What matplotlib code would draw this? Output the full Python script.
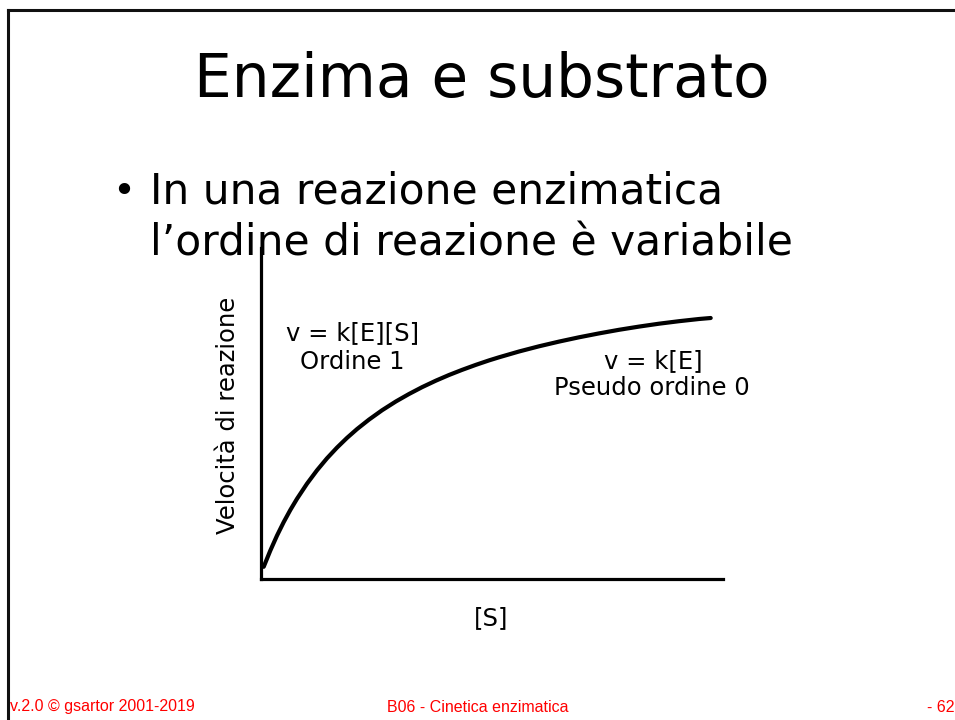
import matplotlib
matplotlib.use("Agg")
import matplotlib.pyplot as plt
from matplotlib.lines import Line2D

# curve ([S] vs velocity, arbitrary units)
substrate = [2.7, 9.3, 16, 22.7, 29.3, 36, 46, 56, 66, 76, 86, 96, 108, 121,
             135, 148, 161, 175, 188, 201, 215, 228, 238, 258, 278, 298, 318,
             338, 358, 378, 398, 418, 438, 449.7]
velocity = [12.2, 28.4, 43.4, 56.9, 69, 80.2, 95.3, 108.7, 120.7, 131.4,
            141.1, 149.9, 159.4, 168.7, 177.6, 185, 191.8, 198.4, 204, 209.1,
            214.2, 218.6, 221.7, 227.5, 232.7, 237.4, 241.7, 245.6, 249.2,
            252.4, 255.3, 257.8, 260, 261]

title = "Enzima e substrato"
bullet_lines = ["In una reazione enzimatica", "l\u2019ordine di reazione è variabile"]
label_low = ["v = k[E][S]", "Ordine 1"]
label_high = ["v = k[E]", "Pseudo ordine 0"]
footer = ["v.2.0 © gsartor 2001-2019", "B06 - Cinetica enzimatica", "- 62 -"]

W, H = 955, 720
fig = plt.figure(figsize=(W / 100, H / 100), dpi=100)


def fx(x):
    return x / W


def fy(y):
    return 1 - y / H


# slide border (top and left)
fig.add_artist(Line2D([fx(8), 1], [fy(10), fy(10)], color="#111111", lw=2.2))
fig.add_artist(Line2D([fx(8), fx(8)], [fy(10), 0], color="#111111", lw=2.2))

fig.text(fx(482), fy(97), title, fontsize=43, ha="center", va="baseline")
fig.text(fx(124), fy(192), "\u2022", fontsize=28, ha="center", va="center")
fig.text(fx(150), fy(203), bullet_lines[0], fontsize=30.5, va="baseline")
fig.text(fx(150), fy(255), bullet_lines[1], fontsize=30.5, va="baseline")

ax = fig.add_axes([fx(261), fy(579), fx(723) - fx(261), fy(248) - fy(579)])
ax.plot(substrate, velocity, color="black", lw=3, solid_capstyle="round",
        solid_joinstyle="round")
ax.set_xlim(0, 462)
ax.set_ylim(0, 331)
for s in ["top", "right"]:
    ax.spines[s].set_visible(False)
for s in ["left", "bottom"]:
    ax.spines[s].set_linewidth(2.3)
ax.set_xticks([])
ax.set_yticks([])

fig.text(fx(353), fy(333), label_low[0], fontsize=17.5, ha="center", va="center")
fig.text(fx(352), fy(362), label_low[1], fontsize=17.5, ha="center", va="center")
fig.text(fx(653), fy(361), label_high[0], fontsize=17.5, ha="center", va="center")
fig.text(fx(652), fy(388), label_high[1], fontsize=17.5, ha="center", va="center")
fig.text(fx(228), fy(415), "Velocità di reazione", fontsize=17.5, rotation=90,
         ha="center", va="center")
fig.text(fx(491), fy(618), "[S]", fontsize=17.5, ha="center", va="center")

red = "#ff0000"
fig.text(fx(10), fy(707), footer[0], fontsize=11.5, color=red, va="center",
         family="Liberation Sans")
fig.text(fx(478), fy(707), footer[1], fontsize=11.5, color=red, va="center",
         ha="center", family="Liberation Sans")
fig.text(fx(927), fy(707), footer[2], fontsize=11.5, color=red, va="center",
         family="Liberation Sans")

fig.savefig("out.png", dpi=100)
